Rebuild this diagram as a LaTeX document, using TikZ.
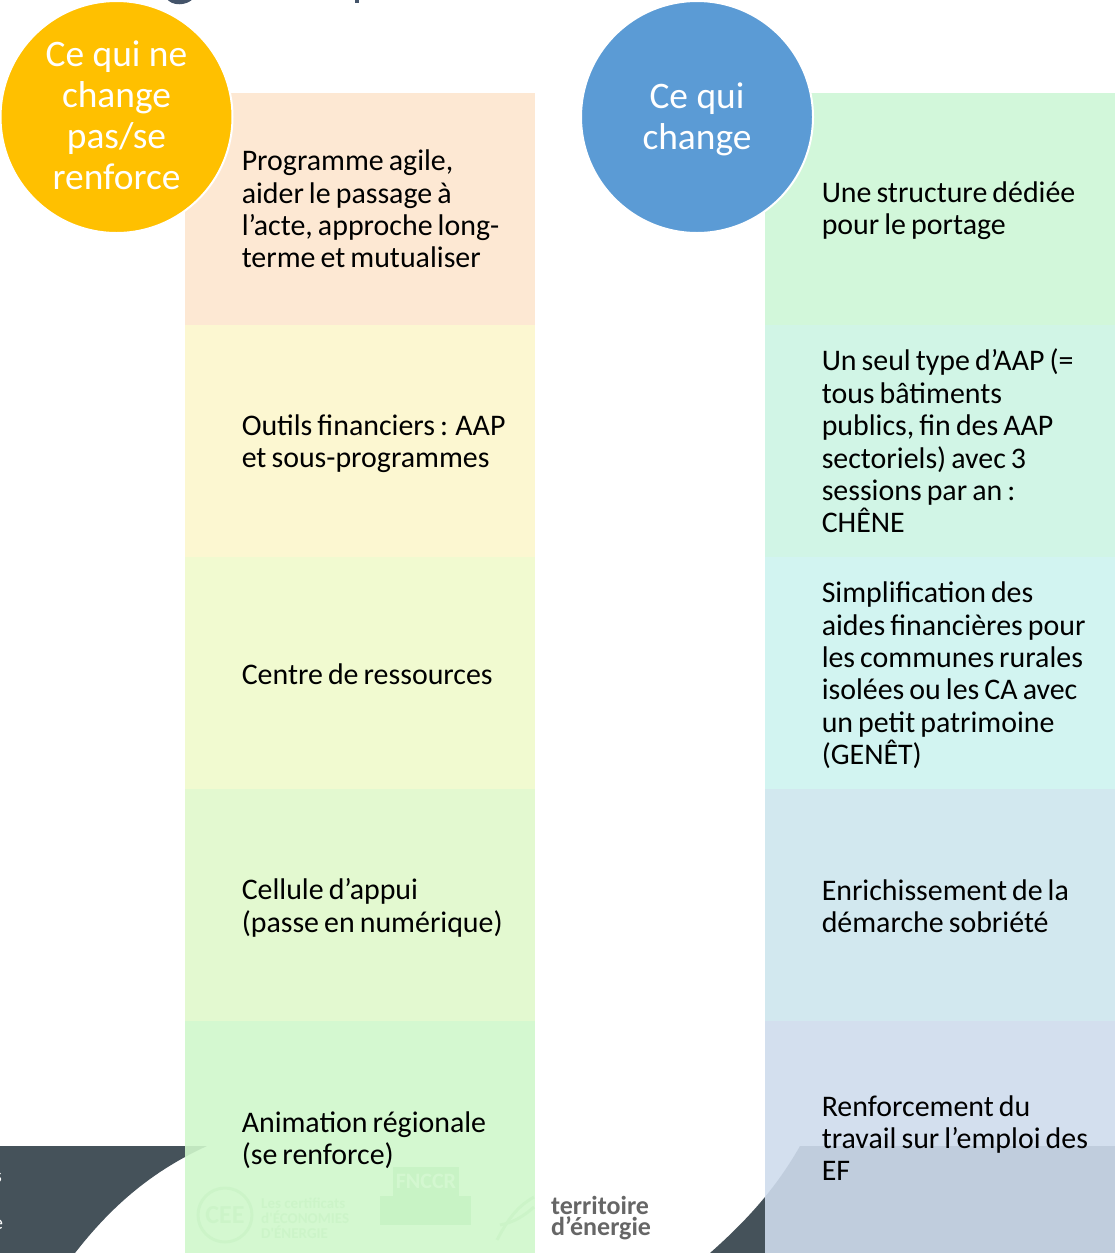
\documentclass[tikz,border=0pt]{standalone}
\usepackage{fontspec}
\setmainfont[WordSpace=0.75]{Carlito}
\newfontfamily\logofont{Carlito}
\newfontfamily\discfont{Carlito}
\definecolor{slatedark}{HTML}{45525A}
\definecolor{titledark}{HTML}{44546A}
\definecolor{amberdisc}{HTML}{FFC000}
\definecolor{bluedisc}{HTML}{5B9BD5}
\definecolor{rowa}{HTML}{FDE6CE}
\definecolor{rowb}{HTML}{FCF6CC}
\definecolor{rowc}{HTML}{EFFACB}
\definecolor{rowd}{HTML}{E0F8CB}
\definecolor{rowe}{HTML}{CFF7CB}
\definecolor{rowf}{HTML}{CDF6D6}
\definecolor{rowg}{HTML}{CCF4E3}
\definecolor{rowh}{HTML}{CDF3EF}
\definecolor{rowi}{HTML}{CDE6ED}
\definecolor{rowj}{HTML}{CEDBEC}
\definecolor{logogreen}{HTML}{8FD08F}
\tikzset{
  rowbox/.style={minimum height=232pt, minimum width=350.5pt, inner sep=0pt, fill opacity=.9},
  rowtext/.style={anchor=west, inner sep=0pt, align=left, xshift=57pt, font=\fontsize{29.9}{32.35}\selectfont, text=black},
  disc/.style={circle, draw=white, line width=2pt, minimum size=232pt, inner sep=0pt},
  disctext/.style={inner sep=0pt, align=center, text=white, font=\discfont\fontsize{37.4}{41}\selectfont},
  logotxt/.style={inner sep=0pt, text=logogreen!65, align=left, font=\logofont\bfseries\fontsize{15}{15}\selectfont}
}
\begin{document}
\begin{tikzpicture}[x=1pt,y=-1pt]
\useasboundingbox (0,0) rectangle (1115,1253);

% slide behind the columns
\fill[slatedark] (0,1146) -- (207,1146) .. controls (150,1172) and (110,1208) .. (75,1253) -- (0,1253) -- cycle;
\fill[slatedark] (800,1146) -- (1115,1146) -- (1115,1253) -- (710,1253) .. controls (745,1222) and (775,1190) .. (800,1146) -- cycle;
\draw[titledark, line width=4pt] (168,-3) .. controls (172,4) and (186,4) .. (192,-3);
\draw[titledark, line width=4pt] (357,-3) -- (357,3);
\node[inner sep=0pt, text=white, font=\fontsize{20}{20}\selectfont] (cutone) at (-2,1178) {s};
\node[inner sep=0pt, text=white, font=\fontsize{20}{20}\selectfont] (cuttwo) at (-2,1225) {e};

% logos
\draw[logogreen!65, line width=3pt] (225,1215) circle[radius=27];
\node[logotxt, font=\logofont\bfseries\fontsize{26}{26}\selectfont] (ceelogo) at (225,1215) {CEE};
\node[logotxt, anchor=west] (ceetxt) at (261,1218) {Les certificats\\ d'ÉCONOMIES\\ D'ÉNERGIE};
\fill[logogreen] (380,1196) rectangle (471,1225);
\fill[logogreen] (393,1167) rectangle (459,1196);
\node[inner sep=0pt, text=white, font=\bfseries\fontsize{22}{22}\selectfont] (fnccr) at (426,1181) {FNCCR};
\draw[logogreen!65, line width=3pt] (497,1240) .. controls (510,1215) and (520,1205) .. (534,1197);
\draw[logogreen!65, line width=3pt] (500,1225) .. controls (515,1222) and (525,1215) .. (534,1207);
\node[inner sep=0pt, anchor=west, align=left, text=black!60, font=\fontsize{26}{21}\selectfont\bfseries] (terrlogo) at (551,1218) {territoire\\ d’énergie};

% left column
\node[rowbox, fill=rowa] (agilebox) at (360,209) {};
\node[rowbox, fill=rowb] (outilsbox) at (360,441) {};
\node[rowbox, fill=rowc] (centrebox) at (360,673) {};
\node[rowbox, fill=rowd] (cellulebox) at (360,905) {};
\node[rowbox, fill=rowe] (animationbox) at (360,1137) {};
\node[rowtext] (agile) at (agilebox.west) {Programme agile,\\ aider le passage à\\ l’acte, approche long-\\ terme et mutualiser};
\node[rowtext] (outils) at ([yshift=-2.5pt]outilsbox.west) {Outils financiers : AAP\\ et sous-programmes};
\node[rowtext] (centre) at ([yshift=-1pt]centrebox.west) {Centre de ressources};
\node[rowtext] (cellule) at ([yshift=-3pt]cellulebox.west) {Cellule d’appui\\ (passe en numérique)};
\node[rowtext] (animation) at ([yshift=-3.5pt]animationbox.west) {Animation régionale\\ (se renforce)};

% right column
\node[rowbox, fill=rowf] (structurebox) at (940,209) {};
\node[rowbox, fill=rowg] (aapbox) at (940,441) {};
\node[rowbox, fill=rowh] (genetbox) at (940,673) {};
\node[rowbox, fill=rowi] (sobrietebox) at (940,905) {};
\node[rowbox, fill=rowj] (emploibox) at (940,1137) {};
\node[rowtext] (structure) at ([yshift=-2pt]structurebox.west) {Une structure dédiée\\ pour le portage};
\node[rowtext] (aap) at (aapbox.west) {Un seul type d’AAP (=\\ tous bâtiments\\ publics, fin des AAP\\ sectoriels) avec 3\\ sessions par an :\\ CHÊNE};
\node[rowtext] (genet) at ([yshift=-2.5pt]genetbox.west) {Simplification des\\ aides financières pour\\ les communes rurales\\ isolées ou les CA avec\\ un petit patrimoine\\ (GENÊT)};
\node[rowtext] (sobriete) at ([yshift=-1pt]sobrietebox.west) {Enrichissement de la\\ démarche sobriété};
\node[rowtext] (emploi) at ([yshift=-1pt]emploibox.west) {Renforcement du\\ travail sur l’emploi des\\ EF};

% discs
\node[disc, fill=amberdisc] (stable) at (116.5,117) {};
\node[disc, fill=bluedisc] (changing) at (697,117) {};
\node[disctext] (stabletxt) at ([yshift=1.5pt]stable.center) {Ce qui ne\\ change\\ pas/se\\ renforce};
\node[disctext] (changingtxt) at ([yshift=-2pt]changing.center) {Ce qui\\ change};
\end{tikzpicture}
\end{document}
